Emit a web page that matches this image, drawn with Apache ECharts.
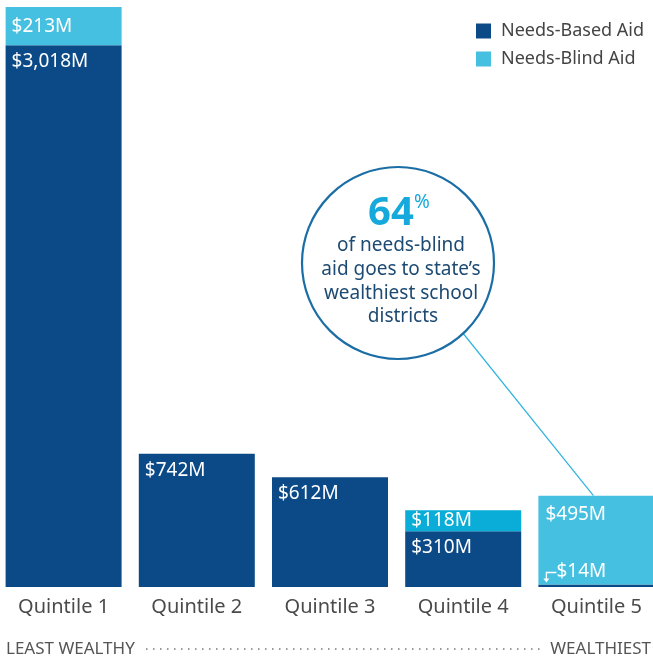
<!DOCTYPE html>
<html>
<head>
<meta charset="utf-8">
<script src="https://cdn.jsdelivr.net/npm/echarts@6/dist/echarts.min.js"></script>
<style>
html, body { margin: 0; padding: 0; background: #fff; }
#main { width: 653px; height: 660px; }
</style>
</head>
<body>
<div id="main"></div>
<script>
// 数据
var categories = ['Quintile 1', 'Quintile 2', 'Quintile 3', 'Quintile 4', 'Quintile 5'];
var needsBased = [3018, 742, 612, 310, 14];
var needsBlind = [213, null, null, 118, 495];
var seriesNames = ['Needs-Based Aid', 'Needs-Blind Aid'];

var DARK = '#0b4a87';
var LIGHT = '#45c0e0';
var FONT = 'Noto Sans';

function money(v) {
	return '$' + String(v).replace(/\B(?=(\d{3})+(?!\d))/g, ',') + 'M';
}

// 深色柱子
var darkData = [];
for(var i = 0; i < needsBased.length; i++) {
	var item = { value: needsBased[i] };
	if(i == 4) {
		// 最小值标签放在柱子上方
		item.label = { position: [18, -23] };
	}
	darkData.push(item);
}
// 浅色柱子
var lightData = [];
for(var i = 0; i < needsBlind.length; i++) {
	var item = { value: needsBlind[i] };
	if(i == 4) {
		item.label = { position: 'insideTopLeft', distance: 7, offset: [0, 2] };
	} else {
		item.label = { position: 'insideLeft', distance: 6 };
	}
	if(i == 3) {
		item.itemStyle = { color: '#0aadd7' };
	}
	lightData.push(item);
}

var myChart = echarts.init(document.getElementById('main'));
var option = {
	animation: false,
	legend: {
		orient: 'vertical',
		left: 471,
		top: 17,
		itemWidth: 15,
		itemHeight: 15,
		itemGap: 10,
		icon: 'rect',
		data: seriesNames,
		textStyle: { fontFamily: FONT, fontSize: 18, color: '#444', padding: [0, 0, 0, 5] }
	},
	grid: { left: -3, width: 666, top: 7, bottom: 73, outerBoundsMode: 'none', containLabel: false },
	xAxis: {
		type: 'category',
		data: categories,
		axisLine: { show: false },
		axisTick: { show: false },
		axisLabel: { margin: 10, fontFamily: FONT, fontSize: 20, color: '#4a4a4a' }
	},
	yAxis: {
		type: 'value',
		min: 0,
		max: 3231,
		show: false,
		splitLine: { show: false }
	},
	series: [{
		name: seriesNames[0],
		type: 'bar',
		stack: 'aid',
		barWidth: 116,
		itemStyle: { color: DARK },
		label: {
			show: true,
			position: 'insideTopLeft',
			distance: 6,
			offset: [0, 1],
			color: '#fff',
			fontFamily: FONT,
			fontSize: 19,
			formatter: function(p) { return money(p.value); }
		},
		data: darkData
	}, {
		name: seriesNames[1],
		type: 'bar',
		stack: 'aid',
		barWidth: 116,
		itemStyle: { color: LIGHT },
		label: {
			show: true,
			color: '#fff',
			fontFamily: FONT,
			fontSize: 19,
			formatter: function(p) { return p.value ? money(p.value) : ''; }
		},
		data: lightData
	}]
};
myChart.setOption(option);

// 注释圆圈和底部说明
var top5 = myChart.convertToPixel({ seriesIndex: 1 }, [4, needsBased[4] + needsBlind[4]]);
var base5 = myChart.convertToPixel({ seriesIndex: 0 }, [4, needsBased[4]]);
var barLeft = base5[0] - 58;
var cx = 398, cy = 263, r = 96;
var ax = barLeft + 8, ay = base5[1] - 12;

myChart.setOption({
	graphic: [
		{ type: 'line', shape: { x1: 462, y1: 332, x2: top5[0] - 3, y2: top5[1] }, style: { stroke: '#2fb3dc', lineWidth: 1.2 }, z: 1 },
		{ type: 'circle', shape: { cx: cx, cy: cy, r: r }, style: { fill: '#fff', stroke: '#1b6ea5', lineWidth: 2.2 }, z: 2 },
		{ type: 'text', x: 391, y: 214, z: 3, style: { text: '64', fill: '#16a9dc', font: 'bold 40px "Noto Sans"', align: 'center', verticalAlign: 'middle' } },
		{ type: 'text', x: 414, y: 203, z: 3, style: { text: '%', fill: '#16a9dc', font: '19px "Noto Sans"', align: 'left', verticalAlign: 'middle' } },
		{ type: 'text', x: 401, y: 246, z: 3, style: { text: 'of needs-blind', fill: '#1c4a72', font: '19px "Noto Sans"', align: 'center', verticalAlign: 'middle' } },
		{ type: 'text', x: 401, y: 270, z: 3, style: { text: 'aid goes to state\u2019s', fill: '#1c4a72', font: '19px "Noto Sans"', align: 'center', verticalAlign: 'middle' } },
		{ type: 'text', x: 401, y: 294, z: 3, style: { text: 'wealthiest school', fill: '#1c4a72', font: '19px "Noto Sans"', align: 'center', verticalAlign: 'middle' } },
		{ type: 'text', x: 403, y: 317, z: 3, style: { text: 'districts', fill: '#1c4a72', font: '19px "Noto Sans"', align: 'center', verticalAlign: 'middle' } },
		// $14M 小箭头
		{ type: 'polyline', z: 5, shape: { points: [[ax + 10, ay], [ax, ay], [ax, ay + 7]] }, style: { stroke: '#fff', lineWidth: 1.3, fill: null } },
		{ type: 'polygon', z: 5, shape: { points: [[ax - 3, ay + 6], [ax + 3, ay + 6], [ax, ay + 10]] }, style: { fill: '#fff' } },
		// 底部
		{ type: 'text', x: 6, y: 649, style: { text: 'LEAST WEALTHY', fill: '#555', font: '17px "Noto Sans"', align: 'left', verticalAlign: 'middle' } },
		{ type: 'text', x: 651, y: 649, style: { text: 'WEALTHIEST', fill: '#555', font: '17px "Noto Sans"', align: 'right', verticalAlign: 'middle' } },
		{ type: 'line', shape: { x1: 146, y1: 649, x2: 541, y2: 649 }, style: { stroke: '#999', lineWidth: 2, lineDash: [1.5, 5.5] } }
	]
});
</script>
</body>
</html>
